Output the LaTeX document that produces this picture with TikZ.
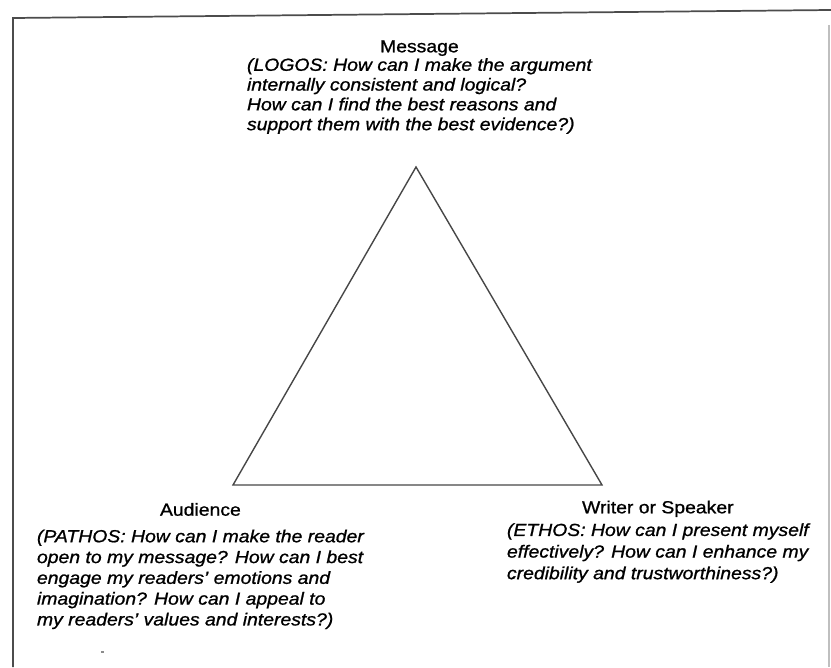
\documentclass[tikz,border=0pt]{standalone}
\usepackage{fontspec}
\setmainfont{Liberation Sans}[FakeStretch=1.11,FakeBold=1]
\begin{document}
\begin{tikzpicture}[x=0.75pt,y=-0.75pt,
  edge/.style={draw=black!72,line width=1.05pt,line join=miter},
  frame/.style={draw=black!70,line width=1.3pt},
  label/.style={inner sep=0pt,outer sep=0pt,anchor=base west,font=\fontsize{13.1pt}{15pt}\selectfont}]
\useasboundingbox (0,0) rectangle (831,667);
% frame
\coordinate (f1) at (13,667);
\coordinate (f2) at (13,18);
\coordinate (f3) at (831,10);
\coordinate (f4) at (829,25);
\coordinate (f5) at (829,667);
\draw[frame] (f1) -- (f2) -- (f3);
\draw[draw=black!25,line width=0.8pt] (f4) -- (f5);
% triangle
\coordinate (A) at (416,167);
\coordinate (B) at (233,485);
\coordinate (C) at (602,485);
\draw[edge] (A) -- (B) -- (C) -- cycle;
% labels
\node[label] (msg) at (247,52.3) {\renewcommand\arraystretch{0.99}\begin{tabular}[t]{@{}l@{}}
\multicolumn{1}{@{}c@{}}{Message}\\[-1pt]
\itshape (LOGOS: How can I make the argument\\
\itshape internally consistent and logical?\\
\itshape How can I find the best reasons and\\
\itshape support them with the best evidence?)
\end{tabular}};
\node[label] (aud) at (37,515.7) {\renewcommand\arraystretch{1.04}\begin{tabular}[t]{@{}l@{}}
\multicolumn{1}{@{}c@{}}{Audience}\\[4.3pt]
\itshape (PATHOS: How can I make the reader\\
\itshape open to my message? How can I best\\
\itshape engage my readers' emotions and\\
\itshape imagination? How can I appeal to\\
\itshape my readers' values and interests?)
\end{tabular}};
\node[label] (wri) at (507,513.3) {\renewcommand\arraystretch{1.08}\begin{tabular}[t]{@{}l@{}}
\multicolumn{1}{@{}c@{}}{Writer or Speaker}\\[0.8pt]
\itshape (ETHOS: How can I present myself\\
\itshape effectively? How can I enhance my\\
\itshape credibility and trustworthiness?)
\end{tabular}};
% speck
\coordinate (s1) at (101,652);
\coordinate (s2) at (104,652);
\draw[draw=black!45,line width=0.9pt] (s1) -- (s2);
\end{tikzpicture}
\end{document}
